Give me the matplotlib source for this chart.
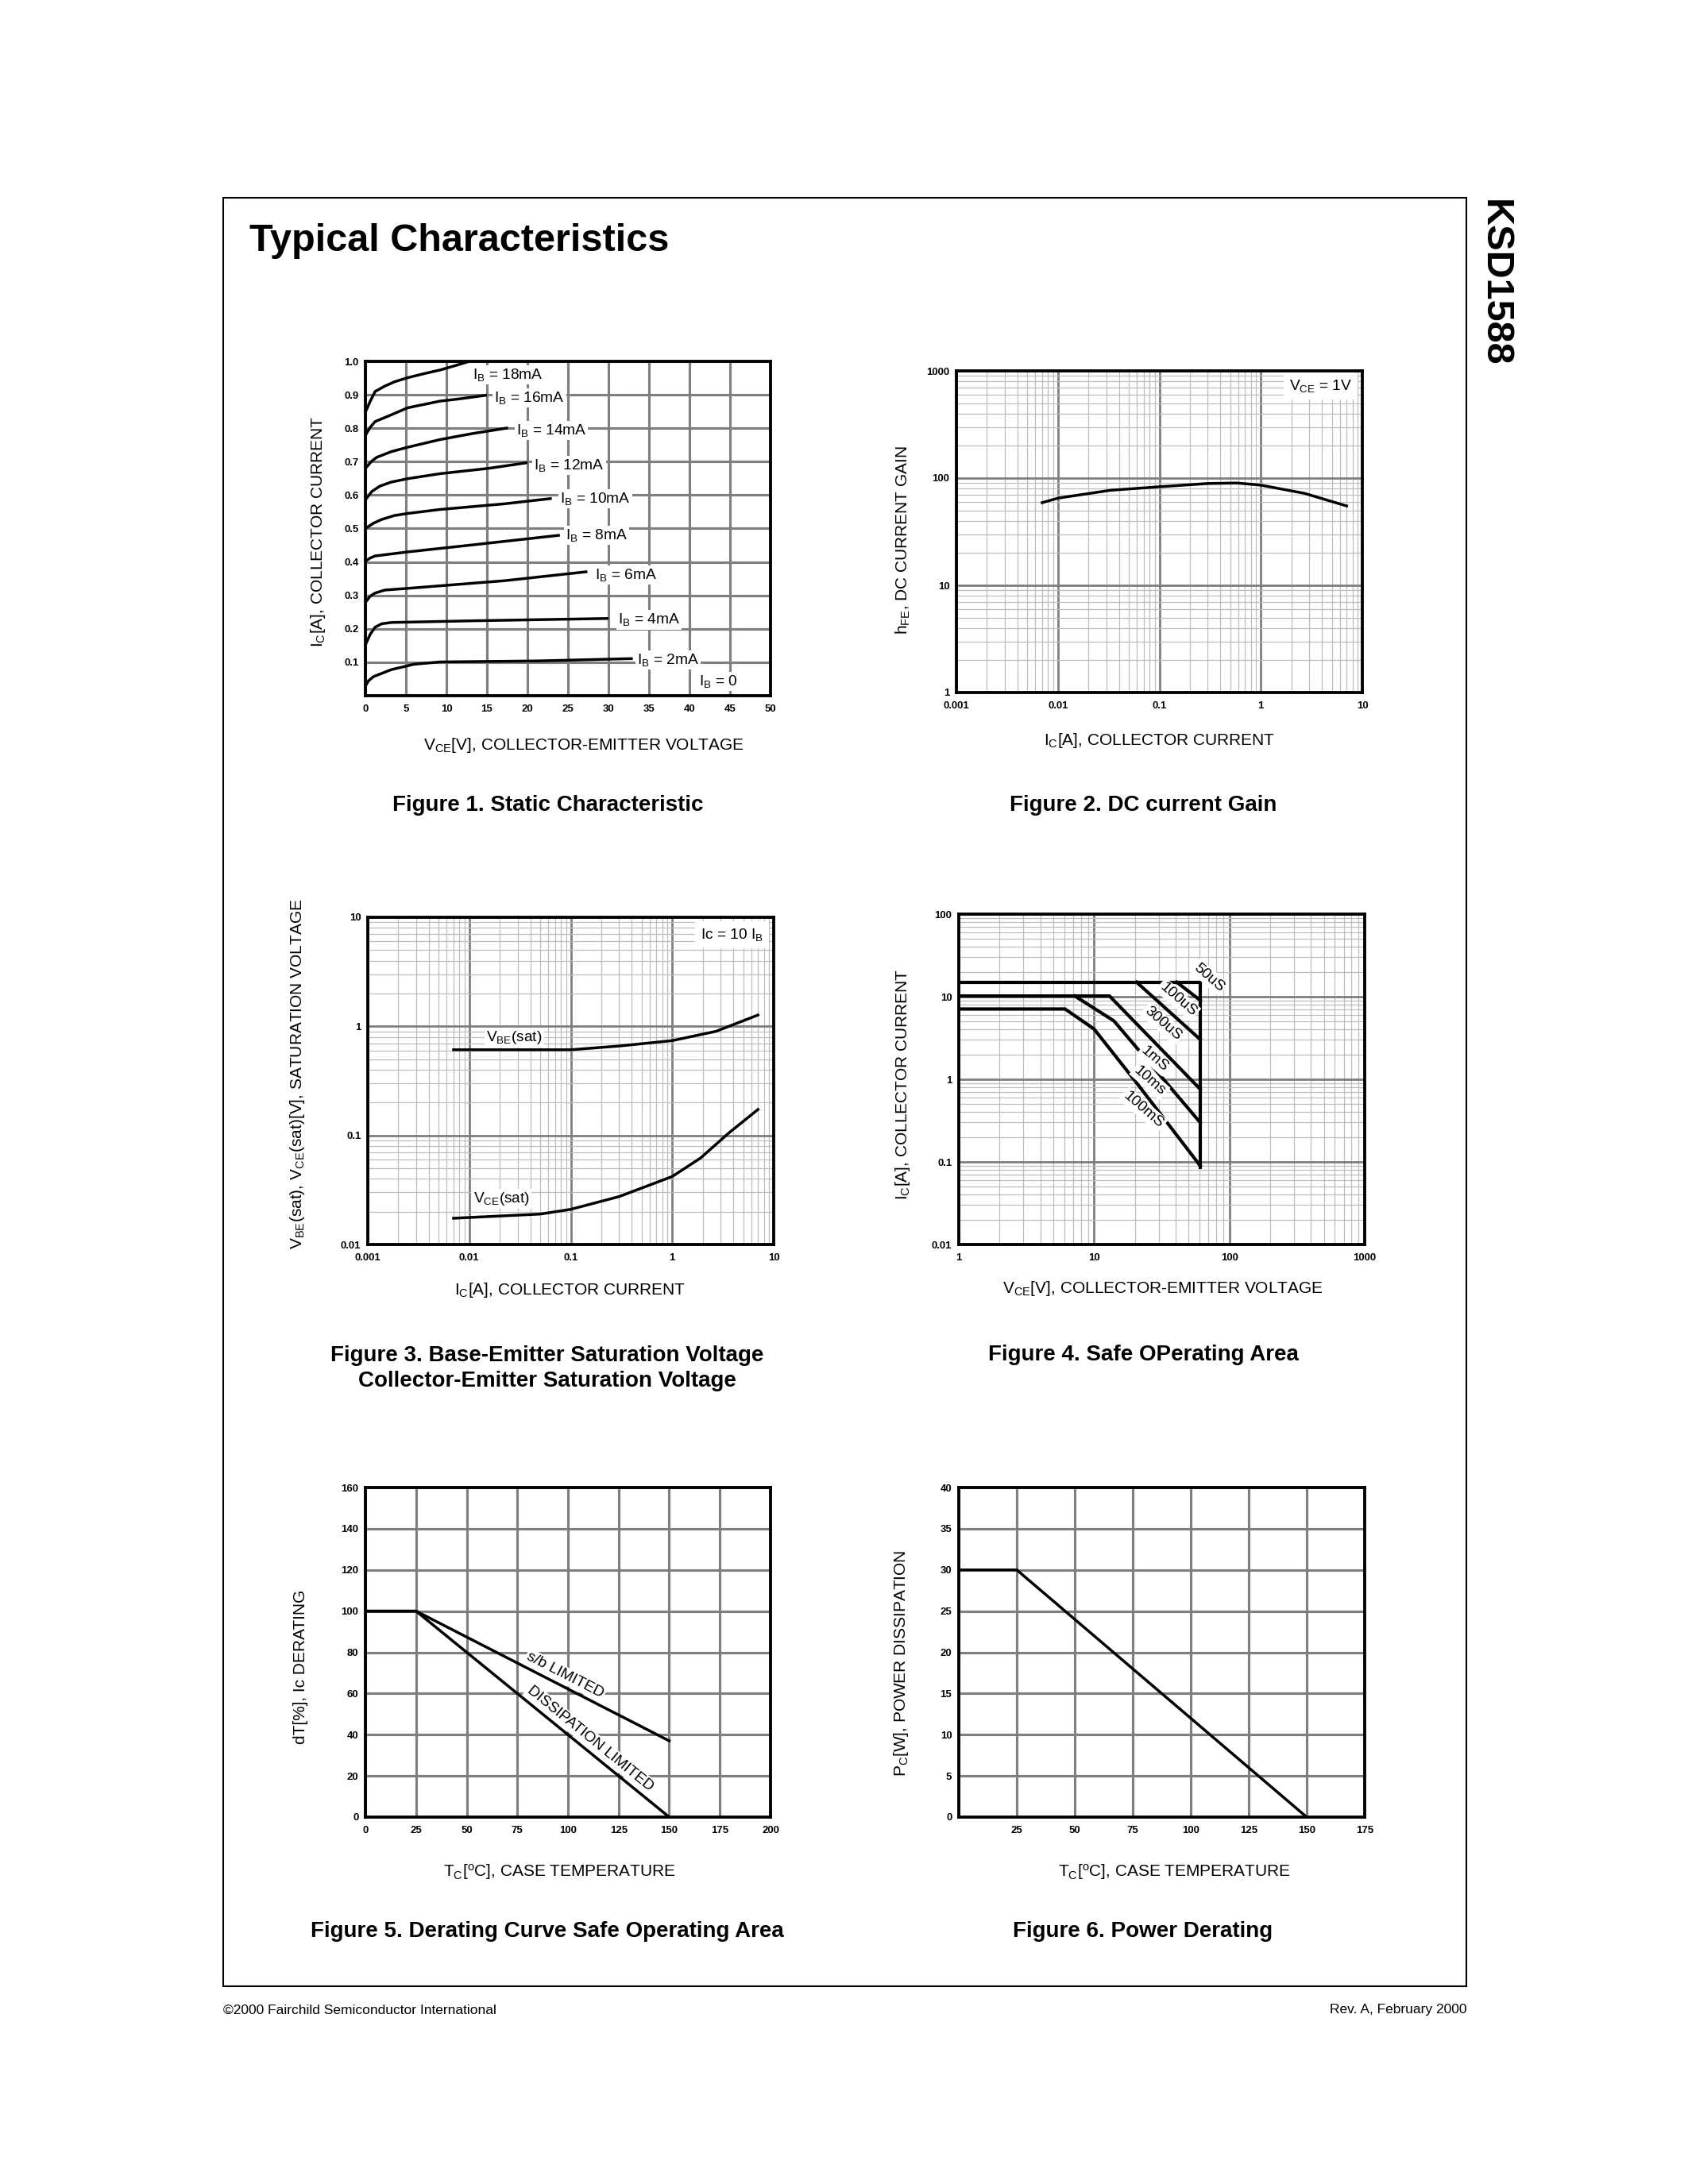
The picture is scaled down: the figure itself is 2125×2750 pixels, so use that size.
import numpy as np
import matplotlib
matplotlib.use('Agg')
import matplotlib.pyplot as plt
from matplotlib.patches import Rectangle
from matplotlib.ticker import LogLocator, NullFormatter

plt.rcParams['font.family'] = ['Liberation Sans', 'DejaVu Sans']
plt.rcParams['mathtext.default'] = 'regular'

W, H = 2125, 2750

#########################################################################
# Figure 1 - static characteristic (VCE [V], IC [A])

vce_18 = [0, 0.6, 1.2, 2.4, 3.6, 5.2, 7.2, 9.2, 11.2, 12.8]
ic_18 = [0.848, 0.881, 0.910, 0.926, 0.939, 0.951, 0.963, 0.974, 0.988, 1.0]
vce_16 = [0, 0.6, 1.2, 2.8, 5.2, 7.2, 9.2, 12, 15]
ic_16 = [0.779, 0.803, 0.820, 0.836, 0.861, 0.871, 0.881, 0.889, 0.899]
vce_14 = [0, 0.8, 1.4, 3.2, 5.2, 9.2, 13.2, 17.6]
ic_14 = [0.680, 0.702, 0.713, 0.730, 0.743, 0.766, 0.784, 0.801]
vce_12 = [0, 0.8, 1.8, 3.2, 5.2, 9.2, 15.2, 20]
ic_12 = [0.586, 0.611, 0.627, 0.639, 0.649, 0.664, 0.680, 0.697]
vce_10 = [0, 1, 2, 3.6, 5.2, 9.2, 17.2, 23]
ic_10 = [0.500, 0.516, 0.527, 0.539, 0.545, 0.557, 0.574, 0.590]
vce_8 = [0, 0.6, 1.2, 5.2, 13.2, 24]
ic_8 = [0.402, 0.412, 0.418, 0.430, 0.451, 0.480]
vce_6 = [0, 0.6, 1.2, 2.4, 5.2, 17.2, 27.4]
ic_6 = [0.279, 0.298, 0.307, 0.316, 0.321, 0.344, 0.371]
vce_4 = [0, 0.6, 1.2, 2, 3.2, 13.2, 30]
ic_4 = [0.152, 0.184, 0.205, 0.215, 0.219, 0.224, 0.231]
vce_2 = [0, 0.4, 1, 3.2, 6, 9.2, 21.2, 33]
ic_2 = [0.029, 0.045, 0.057, 0.078, 0.094, 0.101, 0.104, 0.111]

ib_names = ['18mA', '16mA', '14mA', '12mA', '10mA', '8mA', '6mA', '4mA', '2mA', '0']
ib_label_x = [13.2, 15.9, 18.6, 20.8, 24.0, 24.7, 28.3, 31.2, 33.5, 41.2]
ib_label_y = [0.959, 0.891, 0.793, 0.689, 0.590, 0.480, 0.361, 0.227, 0.107, 0.043]

# Figure 2 - DC current gain
hfe_ic = [0.007, 0.01, 0.033, 0.1, 0.3, 0.58, 1.0, 2.7, 7.0]
hfe = [59, 65, 77, 83, 89, 90, 86, 72, 55]

# Figure 3 - saturation voltages
vbe_ic = [0.007, 0.02, 0.1, 0.3, 1.0, 2.7, 7.0]
vbe_sat = [0.61, 0.61, 0.61, 0.66, 0.74, 0.90, 1.27]
vce_ic = [0.007, 0.05, 0.1, 0.3, 1.0, 1.9, 3.6, 7.0]
vce_sat = [0.0174, 0.019, 0.021, 0.0275, 0.042, 0.062, 0.105, 0.173]

# Figure 4 - safe operating area
soa_box_v = [1, 60.8, 60.8]
soa_box_i = [15, 15, 0.085]
soa_50us_v = [40.8, 60.8]
soa_50us_i = [15, 9.06]
soa_100us_v = [20.6, 60.8]
soa_100us_i = [15, 3.04]
soa_300us_v = [1, 13.0, 60.8]
soa_300us_i = [10.2, 10.2, 0.76]
soa_1ms_v = [7.2, 14.0, 60.8]
soa_1ms_i = [10.2, 5.1, 0.30]
soa_10ms_v = [1, 6.1, 10, 20.1, 60.8]
soa_10ms_i = [7.1, 7.1, 4.06, 0.955, 0.09]

soa_names = ['50uS', '100uS', '300uS', '1mS', '10ms', '100mS']
soa_label_v = [71, 41.7, 32.1, 28, 25.8, 23.1]
soa_label_i = [17.1, 9.27, 4.73, 1.76, 0.955, 0.428]

# Figure 5 - derating
der_tc = [0, 25, 150]
der_sb = [100, 100, 37]
der_diss = [100, 100, 0]

# Figure 6 - power derating
pd_tc = [0, 25, 150]
pd_w = [30, 30, 0]

#########################################################################

fig = plt.figure(figsize=(8.5, 11), dpi=250)
fig.patch.set_facecolor('white')

fig.add_artist(Rectangle((281/W, 1-2501/H), (1846-281)/W, (2501-249)/H,
                         transform=fig.transFigure, fill=False,
                         lw=0.6, color='black'))

fig.text(314/W, 1-303/H, 'Typical Characteristics', fontsize=14,
         fontweight='bold', ha='left', va='center')
fig.text(1881/W, 1-356/H, 'KSD1588', fontsize=14, fontweight='bold',
         rotation=-90, ha='center', va='center')
fig.text(281/W, 1-2531/H, '\u00a92000 Fairchild Semiconductor International',
         fontsize=5, ha='left', va='center')
fig.text(1846/W, 1-2531/H, 'Rev. A, February 2000', fontsize=5,
         ha='right', va='center')

MAJOR = '#7f7f7f'
MINOR = '#bcbcbc'
BOX = dict(facecolor='white', edgecolor='none', pad=0.6)


def make_axes(box):
    x0, y0, x1, y1 = box
    ax = fig.add_axes([x0/W, 1-y1/H, (x1-x0)/W, (y1-y0)/H])
    for s in ax.spines.values():
        s.set_linewidth(1.1)
        s.set_zorder(5)
    ax.set_axisbelow(True)
    ax.tick_params(which='both', length=0)
    ax.tick_params(axis='y', pad=2.5)
    ax.tick_params(axis='x', pad=3.2)
    return ax


def put_labels(ax, box, xl, xpos, yl, ypos):
    x0, y0, x1, y1 = box
    ax.set_xlabel(xl, fontsize=6)
    ax.xaxis.set_label_coords((xpos[0]-x0)/(x1-x0), (y1-xpos[1])/(y1-y0))
    ax.xaxis.label.set_va('center')
    ax.set_ylabel(yl, fontsize=6)
    ax.yaxis.set_label_coords((ypos[0]-x0)/(x1-x0), (y1-ypos[1])/(y1-y0))
    ax.yaxis.label.set_va('center')
    ax.yaxis.label.set_ha('center')


def log_grid(ax):
    for axis in (ax.xaxis, ax.yaxis):
        axis.set_minor_locator(LogLocator(base=10, subs=np.arange(2, 10),
                                          numticks=20))
        axis.set_minor_formatter(NullFormatter())
    ax.grid(True, which='minor', color=MINOR, lw=0.35)
    ax.grid(True, which='major', color=MAJOR, lw=0.8)


def caption(x, y, s):
    fig.text(x/W, 1-y/H, s, fontsize=8, fontweight='bold', ha='center',
             va='center', linespacing=1.3)


TICK = dict(fontsize=3.8, fontweight='bold')

#########################################################################
# Figure 1

box1 = (460, 455, 970, 876)
ax1 = make_axes(box1)
curves1 = [(vce_18, ic_18), (vce_16, ic_16), (vce_14, ic_14),
           (vce_12, ic_12), (vce_10, ic_10), (vce_8, ic_8),
           (vce_6, ic_6), (vce_4, ic_4), (vce_2, ic_2)]
for v, i in curves1:
    ax1.plot(v, i, color='black', lw=1.0, zorder=3,
             solid_capstyle='butt', clip_on=True)
for name, x, y in zip(ib_names, ib_label_x, ib_label_y):
    ax1.text(x, y, 'I$_{B}$ = ' + name, fontsize=5.5, ha='left',
             va='center', bbox=BOX, zorder=2.5)
ax1.set_xlim(0, 50)
ax1.set_ylim(0, 1.0)
xt1 = np.arange(0, 51, 5)
yt1 = np.round(np.arange(0, 1.01, 0.1), 1)
ax1.set_xticks(xt1, [str(t) for t in xt1], **TICK)
ax1.set_yticks(yt1, [''] + ['%.1f' % t for t in yt1[1:]], **TICK)
ax1.grid(True, color=MAJOR, lw=0.9)
put_labels(ax1, box1, 'V$_{CE}$[V], COLLECTOR-EMITTER VOLTAGE', (735, 939),
           'I$_{C}$[A], COLLECTOR CURRENT', (400, 669))
caption(690, 1014, 'Figure 1. Static Characteristic')

#########################################################################
# Figure 2

box2 = (1204, 467, 1715, 872)
ax2 = make_axes(box2)
ax2.set_xscale('log')
ax2.set_yscale('log')
ax2.plot(hfe_ic, hfe, color='black', lw=1.0, zorder=3)
ax2.set_xlim(0.001, 10)
ax2.set_ylim(1, 1000)
ax2.set_xticks([0.001, 0.01, 0.1, 1, 10], ['0.001', '0.01', '0.1', '1', '10'],
               **TICK)
ax2.set_yticks([1, 10, 100, 1000], ['1', '10', '100', '1000'], **TICK)
log_grid(ax2)
ax2.text(0.975, 0.953, 'V$_{CE}$ = 1V', transform=ax2.transAxes,
         fontsize=5.5, ha='right', va='center', bbox=dict(facecolor='white',
         edgecolor='none', pad=2.0), zorder=4)
put_labels(ax2, box2, 'I$_{C}$[A], COLLECTOR CURRENT', (1460, 932),
           'h$_{FE}$, DC CURRENT GAIN', (1137, 680))
caption(1439, 1014, 'Figure 2. DC current Gain')

#########################################################################
# Figure 3

box3 = (463, 1155, 974, 1567)
ax3 = make_axes(box3)
ax3.set_xscale('log')
ax3.set_yscale('log')
ax3.plot(vbe_ic, vbe_sat, color='black', lw=1.0, zorder=3)
ax3.plot(vce_ic, vce_sat, color='black', lw=1.0, zorder=3)
ax3.set_xlim(0.001, 10)
ax3.set_ylim(0.01, 10)
ax3.set_xticks([0.001, 0.01, 0.1, 1, 10], ['0.001', '0.01', '0.1', '1', '10'],
               **TICK)
ax3.set_yticks([0.01, 0.1, 1, 10], ['0.01', '0.1', '1', '10'], **TICK)
log_grid(ax3)
ax3.text(0.0147, 0.79, 'V$_{BE}$(sat)', fontsize=5.5, ha='left',
         va='center', bbox=BOX, zorder=4)
ax3.text(0.0109, 0.0263, 'V$_{CE}$(sat)', fontsize=5.5, ha='left',
         va='center', bbox=BOX, zorder=4)
ax3.text(0.975, 0.946, 'Ic = 10 I$_{B}$', transform=ax3.transAxes,
         fontsize=5.5, ha='right', va='center', bbox=dict(facecolor='white',
         edgecolor='none', pad=2.0), zorder=4)
put_labels(ax3, box3, 'I$_{C}$[A], COLLECTOR CURRENT', (718, 1625),
           'V$_{BE}$(sat), V$_{CE}$(sat)[V], SATURATION VOLTAGE', (374, 1352))
caption(689, 1723, 'Figure 3. Base-Emitter Saturation Voltage\n'
        'Collector-Emitter Saturation Voltage')

#########################################################################
# Figure 4

box4 = (1207, 1151, 1718, 1567)
ax4 = make_axes(box4)
ax4.set_xscale('log')
ax4.set_yscale('log')
soa_lines = [(soa_box_v, soa_box_i), (soa_50us_v, soa_50us_i),
             (soa_100us_v, soa_100us_i), (soa_300us_v, soa_300us_i),
             (soa_1ms_v, soa_1ms_i), (soa_10ms_v, soa_10ms_i)]
for v, i in soa_lines:
    ax4.plot(v, i, color='black', lw=1.2, zorder=3, solid_joinstyle='miter')
for name, v, i in zip(soa_names, soa_label_v, soa_label_i):
    ax4.text(v, i, name, fontsize=5.5, rotation=-41, rotation_mode='anchor',
             ha='center', va='center', bbox=BOX, zorder=4)
ax4.set_xlim(1, 1000)
ax4.set_ylim(0.01, 100)
ax4.set_xticks([1, 10, 100, 1000], ['1', '10', '100', '1000'], **TICK)
ax4.set_yticks([0.01, 0.1, 1, 10, 100], ['0.01', '0.1', '1', '10', '100'],
               **TICK)
log_grid(ax4)
put_labels(ax4, box4, 'V$_{CE}$[V], COLLECTOR-EMITTER VOLTAGE', (1464, 1623),
           'I$_{C}$[A], COLLECTOR CURRENT', (1137, 1365))
caption(1439, 1706, 'Figure 4. Safe OPerating Area')

#########################################################################
# Figure 5

box5 = (460, 1873, 970, 2288)
ax5 = make_axes(box5)
ax5.plot(der_tc, der_sb, color='black', lw=1.0, zorder=3)
ax5.plot(der_tc, der_diss, color='black', lw=1.0, zorder=3)
ax5.set_xlim(0, 200)
ax5.set_ylim(0, 160)
xt5 = np.arange(0, 201, 25)
yt5 = np.arange(0, 161, 20)
ax5.set_xticks(xt5, [str(t) for t in xt5], **TICK)
ax5.set_yticks(yt5, [str(t) for t in yt5], **TICK)
ax5.grid(True, color=MAJOR, lw=0.9)


def screen_angle(ax, p, q):
    a = ax.transData.transform(p)
    b = ax.transData.transform(q)
    return np.degrees(np.arctan2(b[1]-a[1], b[0]-a[0]))


ang_sb = screen_angle(ax5, (der_tc[1], der_sb[1]), (der_tc[2], der_sb[2]))
ang_di = screen_angle(ax5, (der_tc[1], der_diss[1]), (der_tc[2], der_diss[2]))
ax5.text(98.6, 68.8, 's/b LIMITED', fontsize=5.5, rotation=ang_sb,
         rotation_mode='anchor', ha='center', va='center', bbox=BOX, zorder=4)
ax5.text(111, 38, 'DISSIPATION LIMITED', fontsize=5.5, rotation=ang_di,
         rotation_mode='anchor', ha='center', va='center', bbox=BOX, zorder=4)
put_labels(ax5, box5, 'T$_{C}$[$^{o}$C], CASE TEMPERATURE', (704, 2357),
           'dT[%], Ic DERATING', (379, 2099))
caption(689, 2432, 'Figure 5. Derating Curve Safe Operating Area')

#########################################################################
# Figure 6

box6 = (1207, 1873, 1718, 2288)
ax6 = make_axes(box6)
ax6.plot(pd_tc, pd_w, color='black', lw=1.0, zorder=3)
ax6.set_xlim(0, 175)
ax6.set_ylim(0, 40)
xt6 = np.arange(0, 176, 25)
yt6 = np.arange(0, 41, 5)
ax6.set_xticks(xt6, [''] + [str(t) for t in xt6[1:]], **TICK)
ax6.set_yticks(yt6, [str(t) for t in yt6], **TICK)
ax6.grid(True, color=MAJOR, lw=0.9)
put_labels(ax6, box6, 'T$_{C}$[$^{o}$C], CASE TEMPERATURE', (1478, 2357),
           'P$_{C}$[W], POWER DISSIPATION', (1134, 2094))
caption(1439, 2432, 'Figure 6. Power Derating')

fig.savefig('out.png', dpi=250, facecolor='white')
